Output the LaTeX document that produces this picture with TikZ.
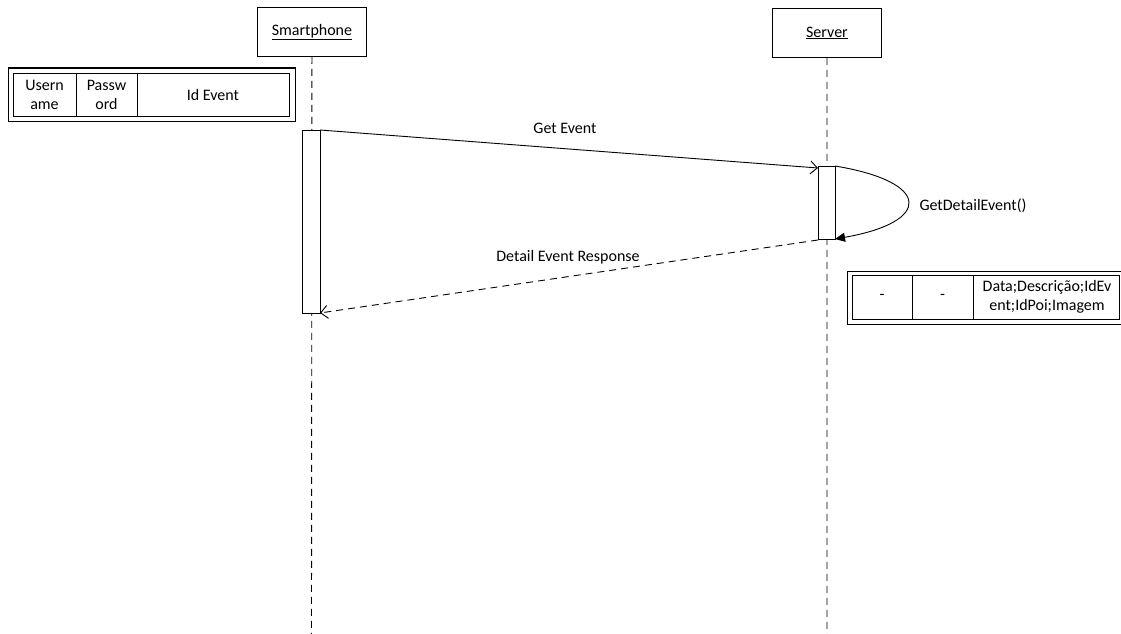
\documentclass[tikz,border=0pt]{standalone}
\usepackage{fontspec}
\setmainfont{Carlito}
\usetikzlibrary{arrows.meta}
\begin{document}
\begin{tikzpicture}[x=1pt,y=-1pt,
  every node/.style={font=\fontsize{16}{19.5}\selectfont, inner sep=0pt},
  obj/.style={draw, line width=0.9pt, minimum width=109pt, minimum height=49pt, anchor=north west},
  life/.style={draw, line width=0.9pt, dash pattern=on 7pt off 5pt},
  act/.style={draw, line width=0.9pt, fill=white},
  msg/.style={draw, line width=0.9pt, -{Straight Barb[length=7pt,width=13pt]}},
  reply/.style={msg, dash pattern=on 7pt off 5pt},
  frame/.style={draw, line width=1pt},
  lbl/.style={inner sep=0pt}]
\useasboundingbox (0,0) rectangle (1121,634);
\clip (0,0) rectangle (1121,634);

% objects
\node[obj] (sp) at (257,7) {\underline{Smartphone}};
\node[obj] (sv) at (772,8) {\underline{Server}};
\coordinate (spend) at (311.5,634);
\coordinate (svend) at (827,634);
\draw[life] (sp.south) -- (spend);
\draw[life] (sv.south) -- (svend);

% activations
\draw[act] (302,130) rectangle (320,313);
\draw[act] (818,166) rectangle (835,239);
\coordinate (a1) at (320,130);
\coordinate (a1b) at (320,313);
\coordinate (a2) at (818,168);
\coordinate (a2b) at (818,240);
\coordinate (a2tr) at (835,166);
\coordinate (a2br) at (835,239);

% messages
\draw[msg] (a1) -- (a2);
\node[lbl] (m1) at (565,128) {Get Event};
\draw[reply] (a2b) -- (a1b);
\node[lbl] (m2) at (568,257) {Detail Event Response};
\draw[line width=0.9pt, -{Triangle[length=10pt,width=9pt]}] (a2tr) .. controls (932,182) and (932,222) .. (a2br);
\node[lbl] (m3) at (973,206) {GetDetailEvent()};

% left table
\draw[frame] (8,68) rectangle (295,121);
\draw[frame] (13,73) rectangle (289,116);
\draw[frame] (76,73) -- (76,116);
\draw[frame] (137,73) -- (137,116);
\node[lbl, align=center] (c1) at (44.5,95) {Usern\\ame};
\node[lbl, align=center] (c2) at (106.5,95) {Passw\\ord};
\node[lbl, align=center] (c3) at (213,95) {Id Event};

% right table
\draw[frame] (847,271) rectangle (1124,324);
\draw[frame] (852,275) rectangle (1119,319);
\draw[frame] (912,275) -- (912,319);
\draw[frame] (973,275) -- (973,319);
\node[lbl] (d1) at (882,297) {-};
\node[lbl] (d2) at (942.5,297) {-};
\node[lbl, align=center] (d3) at (1047,297) {Data;Descrição;IdEv\\ent;IdPoi;Imagem};
\end{tikzpicture}
\end{document}
